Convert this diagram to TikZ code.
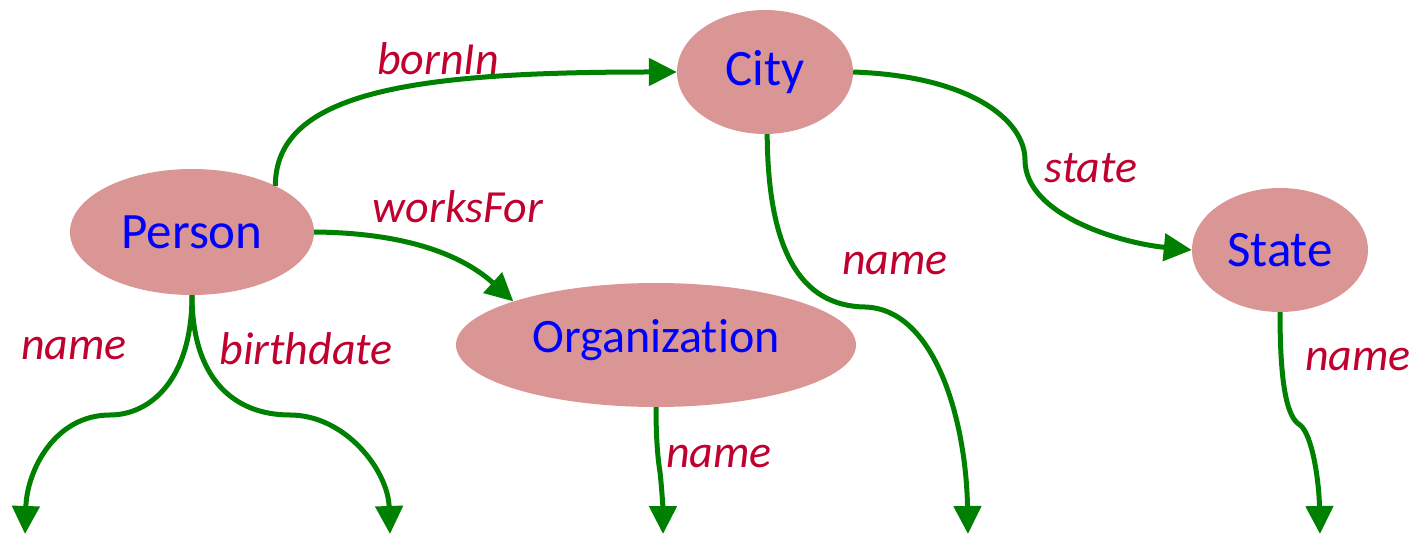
\documentclass[tikz,border=0pt]{standalone}
\usepackage{fontspec}
\setmainfont{Carlito}[Ligatures={NoCommon}]
\usetikzlibrary{arrows.meta,shapes.geometric}
\definecolor{nodefill}{HTML}{D99694}
\definecolor{lblcol}{HTML}{C0002F}
\definecolor{edgecol}{HTML}{008000}
\begin{document}
\begin{tikzpicture}[x=1pt,y=-1pt,
  ent/.style={ellipse, fill=nodefill, text=blue, inner sep=0pt, font=\fontsize{51}{51}\selectfont},
  lab/.style={text=lblcol, inner sep=0pt, font=\fontsize{46}{46}\selectfont\itshape},
  rel/.style={draw=edgecol, line width=5pt, -{Triangle[length=28pt,width=27pt]}}]
\useasboundingbox (0,0) rectangle (1422,534);
% entities
\node[ent, minimum width=244pt, minimum height=126pt] (person) at (192,232) {Person};
\node[ent, minimum width=176pt, minimum height=124pt] (city) at (765,72) {City};
\node[ent, minimum width=400pt, minimum height=124pt] (org) at (656,345) {};
\node[text=blue, inner sep=0pt, font=\fontsize{48}{48}\selectfont] (orgtext) at (656,340) {Organization};
\node[ent, minimum width=176pt, minimum height=124pt] (state) at (1280,250) {State};
% free ends
\coordinate (pn) at (25,534);
\coordinate (pb) at (390,534);
\coordinate (on) at (663,534);
\coordinate (cn) at (968,534);
\coordinate (sn) at (1320,534);
% labels
\node[lab] (lborn) at (438,59) {bornIn};
\node[lab] (lworks) at (458,207) {worksFor};
\node[lab] (lstate) at (1091,168) {state};
\node[lab] (lcname) at (895,264) {name};
\node[lab] (lpname) at (74,349) {name};
\node[lab] (lbirth) at (306,349) {birthdate};
\node[lab] (loname) at (719,457) {name};
\node[lab] (lsname) at (1358,360) {name};
% relations
\draw[rel] (person.29) .. controls +(0,-95) and +(-260,0) .. (city.west);
\draw[rel] (person.east) .. controls (420,233) and (470,262) .. (org.163);
\draw[rel] (city.east) .. controls (970,76) and (1025,120) .. (1025,160)
  .. controls (1025,215) and (1120,243) .. (state.west);
\draw[rel] (city.272) .. controls (768,250) and (800,306) .. (865,307)
  .. controls (935,309) and (966,420) .. (cn);
\draw[rel] (person.south) .. controls (192,380) and (150,415) .. (110,415)
  .. controls (55,415) and (27,470) .. (pn);
\draw[rel] (person.south) .. controls (192,380) and (235,415) .. (290,415)
  .. controls (345,415) and (388,470) .. (pb);
\draw[rel] (org.south) .. controls (656,440) and (658,460) .. (660,472)
  .. controls (662,490) and (663,510) .. (on);
\draw[rel] (state.south) .. controls (1280,390) and (1288,418) .. (1300,425)
  .. controls (1312,434) and (1319,480) .. (sn);
\end{tikzpicture}
\end{document}
